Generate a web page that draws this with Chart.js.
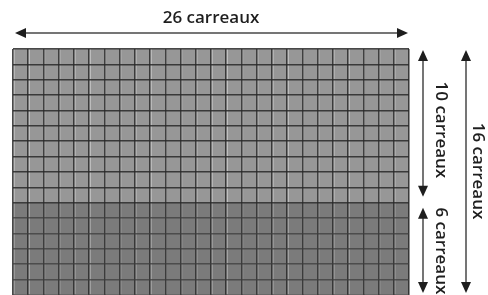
<!DOCTYPE html>
<html>
<head>
<meta charset="utf-8">
<script src="https://cdn.jsdelivr.net/npm/chart.js@4"></script>
<style>
html,body{margin:0;padding:0;background:#fff;}
#wrap{width:488px;height:295px;}
</style>
</head>
<body>
<div id="wrap"><canvas id="c" width="488" height="295"></canvas></div>
<script>
// Data
const columnCount = 26;            // carreaux en largeur
const topRows = 10;                // carreaux (partie haute)
const bottomRows = 6;              // carreaux (partie basse)
const totalRows = topRows + bottomRows;
const columns = Array.from({length: columnCount}, (_, i) => String(i + 1));
const topValues = columns.map(() => topRows);
const bottomValues = columns.map(() => bottomRows);
const labels = {
  width: columnCount + ' carreaux',
  top: topRows + ' carreaux',
  bottom: bottomRows + ' carreaux',
  total: totalRows + ' carreaux'
};

const FONT = '"Open Sans", "Liberation Sans", sans-serif';
const TEXT_FONT = '600 17px ' + FONT;

function arrowHead(ctx, x, y, dir) {
  const L = 11, W = 5;
  ctx.beginPath();
  ctx.moveTo(x, y);
  if (dir === 'left') { ctx.lineTo(x + L, y - W); ctx.lineTo(x + L, y + W); }
  if (dir === 'right') { ctx.lineTo(x - L, y - W); ctx.lineTo(x - L, y + W); }
  if (dir === 'up') { ctx.lineTo(x - W, y + L); ctx.lineTo(x + W, y + L); }
  if (dir === 'down') { ctx.lineTo(x - W, y - L); ctx.lineTo(x + W, y - L); }
  ctx.closePath();
  ctx.fill();
}
function hArrow(ctx, x1, x2, y) {
  ctx.strokeStyle = '#757575'; ctx.lineWidth = 2;
  ctx.beginPath(); ctx.moveTo(x1 + 6, y); ctx.lineTo(x2 - 6, y); ctx.stroke();
  ctx.fillStyle = '#1e1e1e';
  arrowHead(ctx, x1, y, 'left'); arrowHead(ctx, x2, y, 'right');
}
function vArrow(ctx, x, y1, y2) {
  ctx.strokeStyle = '#757575'; ctx.lineWidth = 2;
  ctx.beginPath(); ctx.moveTo(x, y1 + 6); ctx.lineTo(x, y2 - 6); ctx.stroke();
  ctx.fillStyle = '#1e1e1e';
  arrowHead(ctx, x, y1, 'up'); arrowHead(ctx, x, y2, 'down');
}
function vText(ctx, text, x, y) {
  ctx.save();
  ctx.translate(x, y);
  ctx.rotate(Math.PI / 2);
  ctx.textAlign = 'center'; ctx.textBaseline = 'middle';
  ctx.fillText(text, 0, 0);
  ctx.restore();
}

const dimPlugin = {
  id: 'dims',
  afterDraw(chart) {
    const ctx = chart.ctx;
    const xs = chart.scales.x, ys = chart.scales.y;
    const left = xs.left, right = xs.right;
    const yTop = ys.getPixelForValue(totalRows);
    const yMid = ys.getPixelForValue(bottomRows);
    const yBot = ys.getPixelForValue(0);
    ctx.save();
    hArrow(ctx, left + 2, right - 1, yTop - 16);
    ctx.fillStyle = '#1e1e1e';
    ctx.font = TEXT_FONT;
    ctx.textAlign = 'center'; ctx.textBaseline = 'middle';
    ctx.fillText(labels.width, (left + right) / 2, yTop - 31);
    const xA = right + 14, xB = right + 57;
    vArrow(ctx, xA, yTop + 1, yMid - 6);
    vArrow(ctx, xA, yMid + 5, yBot - 2);
    vArrow(ctx, xB, yTop + 1, yBot - 2);
    ctx.fillStyle = '#1e1e1e';
    ctx.font = TEXT_FONT;
    vText(ctx, labels.top, xA + 18, (yTop + yMid) / 2 + 4);
    vText(ctx, labels.bottom, xA + 18, (yMid + yBot) / 2 + 2);
    vText(ctx, labels.total, xB + 12, (yTop + yBot) / 2 - 1);
    ctx.restore();
  }
};

const barBorder = { left: 2, right: 0, top: 0, bottom: 0 };

new Chart(document.getElementById('c'), {
  type: 'bar',
  data: {
    labels: columns,
    datasets: [
      { label: labels.bottom, data: bottomValues, backgroundColor: '#7b7b7b',
        borderColor: '#a9a9a9', borderWidth: barBorder, borderSkipped: false,
        categoryPercentage: 1, barPercentage: 1 },
      { label: labels.top, data: topValues, backgroundColor: '#979797',
        borderColor: '#c6c6c6', borderWidth: barBorder, borderSkipped: false,
        categoryPercentage: 1, barPercentage: 1 }
    ]
  },
  options: {
    responsive: false,
    animation: false,
    devicePixelRatio: 1,
    layout: { padding: { left: 13, right: 79, top: 49, bottom: 0 } },
    plugins: { legend: { display: false }, tooltip: { enabled: false } },
    scales: {
      x: {
        stacked: true,
        ticks: { display: false },
        border: { display: false },
        grid: { z: 1, color: 'rgba(40,40,40,0.85)', lineWidth: 1.6, drawTicks: false, offset: true }
      },
      y: {
        stacked: true, min: 0, max: totalRows,
        ticks: { display: false, stepSize: 1 },
        border: { display: false },
        grid: {
          z: 1, drawTicks: false, lineWidth: 1.6,
          color: (c) => (c.tick && c.tick.value < bottomRows) ? 'rgba(60,60,60,0.75)' : 'rgba(40,40,40,0.85)'
        }
      }
    }
  },
  plugins: [dimPlugin]
});
</script>
</body>
</html>
